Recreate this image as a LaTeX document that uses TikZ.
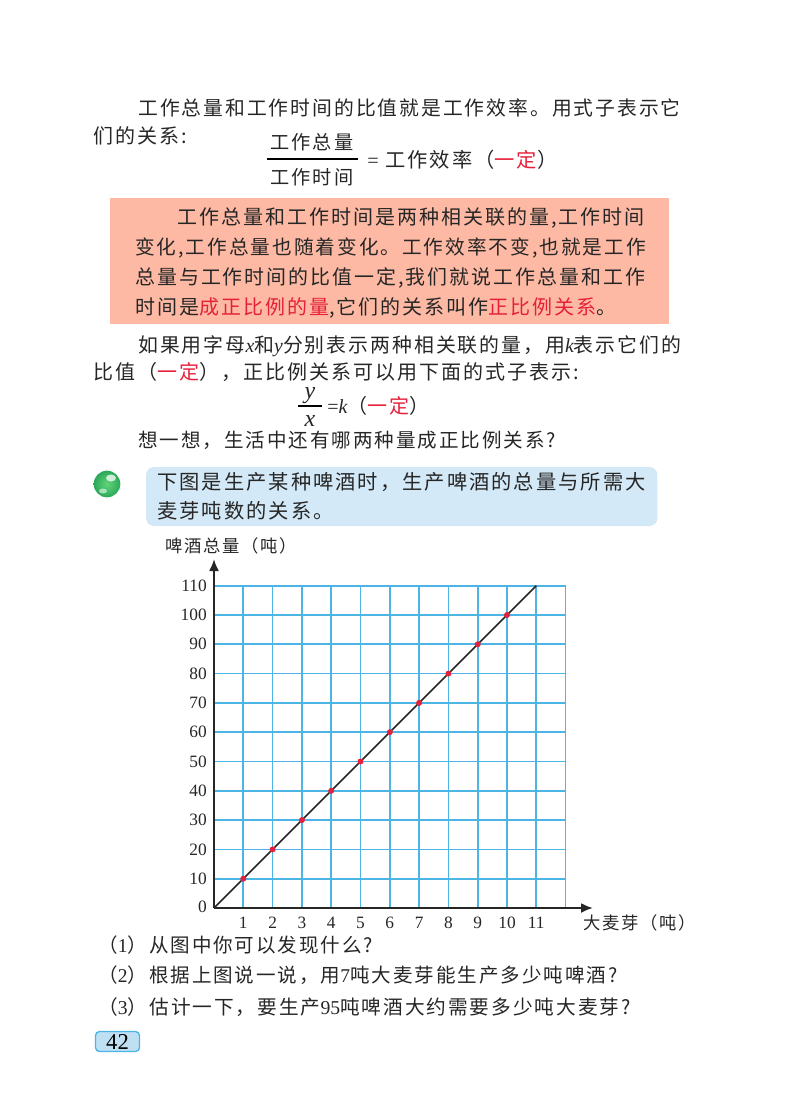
\documentclass[tikz,border=0pt]{standalone}
\usepackage{fontspec}
\setmainfont[LetterSpace=10]{Noto Sans CJK SC}
\newfontfamily\numfont{Liberation Serif}
\usetikzlibrary{arrows.meta}
\definecolor{gridblue}{HTML}{4DB4E6}
\definecolor{keyred}{HTML}{E5203A}
\definecolor{boxpink}{HTML}{FDB9A3}
\definecolor{boxblue}{HTML}{D3E9F7}
\definecolor{pageblue}{HTML}{BFE0F3}
\definecolor{ballgreen}{HTML}{2BA85A}
\newcommand{\var}[1]{{\numfont\itshape #1}}
\newcommand{\num}[1]{{\numfont #1}}
\newcommand{\key}[1]{\textcolor{keyred}{#1}}
\tikzset{
  textline/.style = {anchor=base west, inner sep=0pt, text=black!85,
    font=\fontsize{#1}{18}\selectfont},
  textline/.default = 15,
  fracline/.style = {anchor=base, inner sep=0pt, text=black!85,
    font=\fontsize{14.4}{18}\selectfont},
  letterline/.style = {anchor=base, inner sep=0pt, text=black!85,
    font=\numfont\itshape\fontsize{18}{20}\selectfont},
  tick/.style = {inner sep=0pt, text=black!85,
    font=\numfont\fontsize{13}{16}\selectfont},
  reddot/.style = {circle, fill=keyred, inner sep=0pt, minimum size=4.5pt},
  axis/.style = {-{Latex[length=9pt,width=7.5pt]}, line width=1.6pt, black!85}
}
\begin{document}
\begin{tikzpicture}[x=0.75pt,y=-0.75pt]
	\useasboundingbox (0,0) rectangle (800,1114);
	% top paragraph
	\node [textline=14.85] (line1) at (138,115) {工作总量和工作时间的比值就是工作效率。用式子表示它};
	\node [textline] (line2) at (93,143) {们的关系:};
	\node [fracline] (frac1) at (312,149) {工作总量};
	\node [fracline] (frac2) at (312,184) {工作时间};
	\coordinate (fa) at (267,159);
	\coordinate (fb) at (358,159);
	\draw [thick] (fa) -- (fb);
	\node [textline=15.2] (eq1) at (367,167) {\num{=} 工作效率（\key{一定}）};
	% red box
	\node [fill=boxpink, minimum width=419.25pt, minimum height=94.5pt, inner sep=0pt] (redbox) at (389.5,261) {};
	\node [textline] (box1) at (177,224) {工作总量和工作时间是两种相关联的量,工作时间};
	\node [textline=14.75] (box2) at (135,254) {变化,工作总量也随着变化。工作效率不变,也就是工作};
	\node [textline=14.95] (box3) at (135,284) {总量与工作时间的比值一定,我们就说工作总量和工作};
	\node [textline] (box4) at (135,314) {时间是\key{成正比例的量},它们的关系叫作\key{正比例关系}。};
	% second paragraph
	\node [textline=14.9] (line3) at (138,352) {如果用字母\var{x}和\var{y}分别表示两种相关联的量，用\var{k}表示它们的};
	\node [textline] (line4) at (93,379) {比值（\key{一定}），正比例关系可以用下面的式子表示:};
	\node [letterline] (fy) at (310,398) {y};
	\node [letterline] (fx) at (310,426) {x};
	\coordinate (ga) at (298,406);
	\coordinate (gb) at (322,406);
	\draw [thick] (ga) -- (gb);
	\node [textline] (eq2) at (327,413) {\num{=}\var{k}（\key{一定}）};
	\node [textline=14.65] (line5) at (138,447) {想一想，生活中还有哪两种量成正比例关系?};
	% ball and blue box
	\node [circle, minimum size=20pt, inner sep=0pt, shade, inner color=green!30!ballgreen!70!white, outer color=ballgreen] (ball) at (107,484) {};
	\fill [white, opacity=.75] (111,478) ellipse (5 and 3.5);
	\fill [white, opacity=.55] (103,491) ellipse (4 and 2.5);
	\node [fill=boxblue, rounded corners=6pt, minimum width=383.6pt, minimum height=44.25pt, inner sep=0pt] (bluebox) at (401.75,496.5) {};
	\node [textline=15.2] (blue1) at (157,489) {下图是生产某种啤酒时，生产啤酒的总量与所需大};
	\node [textline=15.2] (blue2) at (157,518) {麦芽吨数的关系。};
	% chart
	\coordinate (origin) at (214,908);
	\coordinate (xend) at (593,908);
	\coordinate (yend) at (214,559);
	\coordinate (lineend) at (536.3,585.7);
	\foreach \k in {1,...,12}
		\draw [gridblue, line width=1.25pt] (214+29.3*\k,908) -- (214+29.3*\k,585.5);
	\foreach \k in {1,...,11}
		\draw [gridblue, line width=1.25pt] (214,908-29.3*\k) -- (565.6,908-29.3*\k);
	\foreach \k in {1,...,11}
		\node [tick] (xt\k) at (214+29.3*\k,923) {\k};
	\foreach \k in {10,20,...,110}
		\node [tick, anchor=east] (yt\k) at (207,908-2.93*\k) {\k};
	\node [tick, anchor=east] (yt0) at (207,907) {0};
	\draw [line width=1.3pt, black!85] (origin) -- (lineend);
	\foreach \k in {1,...,10}
		\node [reddot] (dot\k) at (214+29.3*\k,908-29.3*\k) {};
	\draw [axis] (origin) -- (xend);
	\draw [axis] (origin) -- (yend);
	\node [textline=13] (ylabel) at (165,552) {啤酒总量（吨）};
	\node [textline=13] (xlabel) at (583,929) {大麦芽（吨）};
	% questions
	\node [textline=14.65] (q1) at (98,952) {（\num{1}）从图中你可以发现什么?};
	\node [textline=14.65] (q2) at (98,982) {（\num{2}）根据上图说一说，用\num{7}吨大麦芽能生产多少吨啤酒?};
	\node [textline=14.75] (q3) at (98,1014) {（\num{3}）估计一下，要生产\num{95}吨啤酒大约需要多少吨大麦芽?};
	% page number
	\node [draw=gridblue, fill=pageblue, rounded corners=3pt, line width=1pt, minimum width=33pt, minimum height=15pt, inner sep=0pt, font=\numfont\fontsize{17}{18}\selectfont] (page) at (117.5,1041.5) {42};
\end{tikzpicture}
\end{document}
